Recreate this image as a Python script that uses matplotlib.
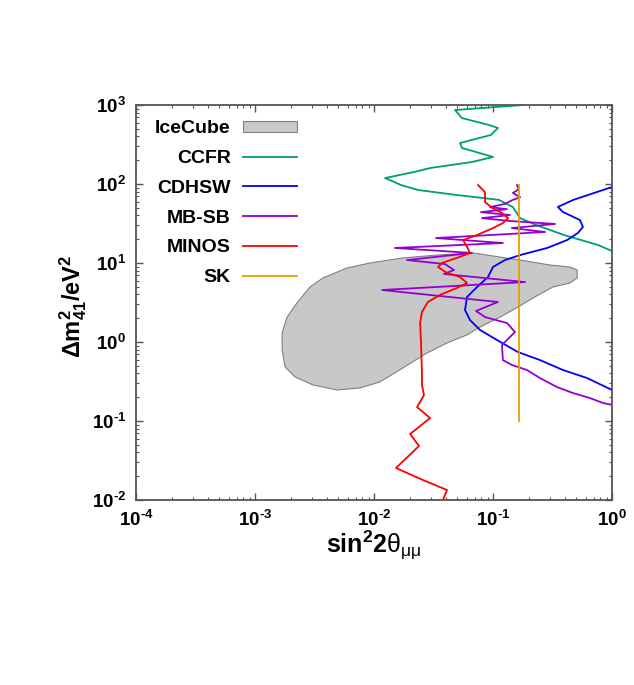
import matplotlib
matplotlib.use("Agg")
import matplotlib.pyplot as plt
import numpy as np
from matplotlib.patches import Polygon
from matplotlib.ticker import FixedLocator, LogLocator, NullFormatter

plt.rcParams["font.family"] = ["Liberation Sans", "DejaVu Sans"]
plt.rcParams["font.weight"] = "bold"
plt.rcParams["mathtext.fontset"] = "custom"
plt.rcParams["mathtext.rm"] = "Liberation Sans:bold"
plt.rcParams["mathtext.bf"] = "Liberation Sans:bold"
plt.rcParams["mathtext.it"] = "Liberation Sans:weight=normal"

# IceCube allowed region (closed contour)
icecube_x = [0.00179, 0.00217, 0.00307, 0.00489, 0.00762, 0.0112, 0.0175, 0.0279,
             0.041, 0.0605, 0.0778, 0.115, 0.162, 0.217, 0.319, 0.443, 0.51, 0.51,
             0.443, 0.301, 0.169, 0.0679, 0.0338, 0.0175, 0.00925, 0.00593, 0.00372,
             0.0029, 0.00225, 0.00186, 0.00169, 0.00169]
icecube_y = [0.483, 0.361, 0.286, 0.247, 0.262, 0.312, 0.469, 0.726,
             0.97, 1.23, 1.55, 2.07, 2.77, 3.61, 4.97, 5.58, 6.46, 8.15,
             8.9, 9.43, 10.9, 13.4, 12.6, 11.6, 10.0, 8.65, 6.46,
             4.97, 3.12, 2.07, 1.30, 0.792]

ccfr_x = [0.179, 0.048, 0.0548, 0.0925, 0.110, 0.096, 0.0528, 0.0548, 0.1, 0.0667,
          0.0301, 0.0217, 0.0124, 0.0169, 0.0234, 0.048, 0.112, 0.147, 0.169, 0.234,
          0.395, 0.762, 1.0]
ccfr_y = [1000, 864, 683, 559, 512, 417, 330, 286, 220, 190,
          160, 142, 119, 97, 84, 73, 63, 51, 37, 30,
          22.6, 16.9, 14.2]

cdhsw_x = [1.0, 0.792, 0.47, 0.351, 0.387, 0.538, 0.570, 0.517, 0.419, 0.285,
           0.169, 0.126, 0.1, 0.0908, 0.0735, 0.0605, 0.0582, 0.064, 0.0778, 0.108,
           0.162, 0.248, 0.387, 0.617, 1.0]
cdhsw_y = [91.6, 81.5, 62.7, 51.2, 44.2, 35, 28.6, 24, 19.5, 15.5,
           12.6, 10.9, 8.9, 6.65, 4.97, 3.71, 2.54, 1.90, 1.42, 1.06,
           0.746, 0.591, 0.442, 0.350, 0.247]

mbsb_x = [0.159, 0.165, 0.147, 0.169, 0.147, 0.126, 0.0944, 0.131, 0.0792, 0.139,
          0.0809, 0.139, 0.332, 0.144, 0.274, 0.0332, 0.121, 0.015, 0.0667, 0.0189,
          0.0395, 0.047, 0.0387, 0.186, 0.0117, 0.110, 0.072, 0.0857, 0.131, 0.153,
          0.119, 0.121, 0.144, 0.193, 0.248, 0.345, 0.47, 0.653, 0.84, 1.0]
mbsb_y = [97, 86, 77, 68, 63, 56, 51, 48, 44, 40.5,
          37, 34, 31.2, 27.7, 24.7, 20.7, 17.9, 15.5, 13.4, 10.9,
          9.7, 8.15, 7.26, 5.74, 4.55, 3.21, 2.47, 2.07, 1.74, 1.34,
          0.916, 0.591, 0.512, 0.442, 0.350, 0.269, 0.226, 0.195, 0.169, 0.16]

minos_x = [0.0748, 0.0857, 0.0857, 0.0982, 0.119, 0.134, 0.121, 0.1, 0.0735, 0.056,
           0.0605, 0.064, 0.0497, 0.0372, 0.0345, 0.041, 0.0528, 0.0605, 0.0497, 0.0359,
           0.0284, 0.0253, 0.0244, 0.0248, 0.0253, 0.0253, 0.0263, 0.023, 0.0296, 0.0201,
           0.0239, 0.0153, 0.0258, 0.041, 0.038]
minos_y = [97, 79, 59, 50, 43, 37, 32, 27.7, 22.6, 19.5,
           16, 13.4, 11.6, 10, 8.9, 7.5, 6.65, 5.58, 4.83, 3.94,
           3.21, 2.40, 1.74, 1.06, 0.405, 0.286, 0.213, 0.150, 0.109, 0.0684,
           0.0483, 0.0254, 0.0179, 0.0134, 0.01]

sk_x = [0.165, 0.165]
sk_y = [0.1, 97]

fig = plt.figure(figsize=(6.34, 6.85), dpi=100)
ax = fig.add_axes([136 / 634, 1 - 500 / 685, 476 / 634, 395 / 685])

ice = Polygon(np.column_stack([icecube_x, icecube_y]), closed=True,
              facecolor="#c8c8c8", edgecolor="#808080", linewidth=0.8, label="IceCube")
ax.add_patch(ice)
ax.plot(ccfr_x, ccfr_y, color="#009e73", lw=1.3, label="CCFR")
ax.plot(cdhsw_x, cdhsw_y, color="#0000ff", lw=1.3, label="CDHSW")
ax.plot(mbsb_x, mbsb_y, color="#9400d3", lw=1.3, label="MB-SB")
ax.plot(minos_x, minos_y, color="#ff0000", lw=1.3, label="MINOS")
ax.plot(sk_x, sk_y, color="#e69f00", lw=1.3, label="SK")

ax.set_xscale("log")
ax.set_yscale("log")
ax.set_xlim(1e-4, 1)
ax.set_ylim(1e-2, 1e3)


def pow_label(v):
    e = round(np.log10(v))
    if e < 0:
        return r"$\mathbf{10^{\text{-}%d}}$" % (-e)
    return r"$\mathbf{10^{%d}}$" % e


xt = [1e-4, 1e-3, 1e-2, 1e-1, 1]
yt = [1e-2, 1e-1, 1, 1e1, 1e2, 1e3]
ax.xaxis.set_major_locator(FixedLocator(xt))
ax.yaxis.set_major_locator(FixedLocator(yt))
ax.set_xticklabels([pow_label(v) for v in xt])
ax.set_yticklabels([pow_label(v) for v in yt])
ax.xaxis.set_minor_locator(LogLocator(base=10, subs=np.arange(2, 10), numticks=20))
ax.yaxis.set_minor_locator(LogLocator(base=10, subs=np.arange(2, 10), numticks=20))
ax.xaxis.set_minor_formatter(NullFormatter())
ax.yaxis.set_minor_formatter(NullFormatter())

ax.tick_params(which="both", direction="in", top=True, right=True, color="#555555",
               labelsize=13.5, pad=7)
ax.tick_params(which="major", length=5, width=1)
ax.tick_params(which="minor", length=2.5, width=0.8)
for sp in ax.spines.values():
    sp.set_color("#555555")
    sp.set_linewidth(1.3)

ax.set_xlabel(r"$\mathbf{sin^{2}2}\theta_{\mu\mu}$", fontsize=18)
ax.set_ylabel(r"$\mathbf{\Delta m^{2}_{41}/eV^{2}}$", fontsize=17)
ax.xaxis.set_label_coords(0.5, -0.072)
ax.yaxis.set_label_coords(-0.098, 0.49)

ax.legend(loc="upper right", bbox_to_anchor=(0.338, 0.962), frameon=False,
          markerfirst=False, fontsize=14, handlelength=2.75, handletextpad=0.65,
          handleheight=0.5, labelspacing=0.66, borderpad=0, borderaxespad=0)

fig.savefig("out.png", dpi=100)
